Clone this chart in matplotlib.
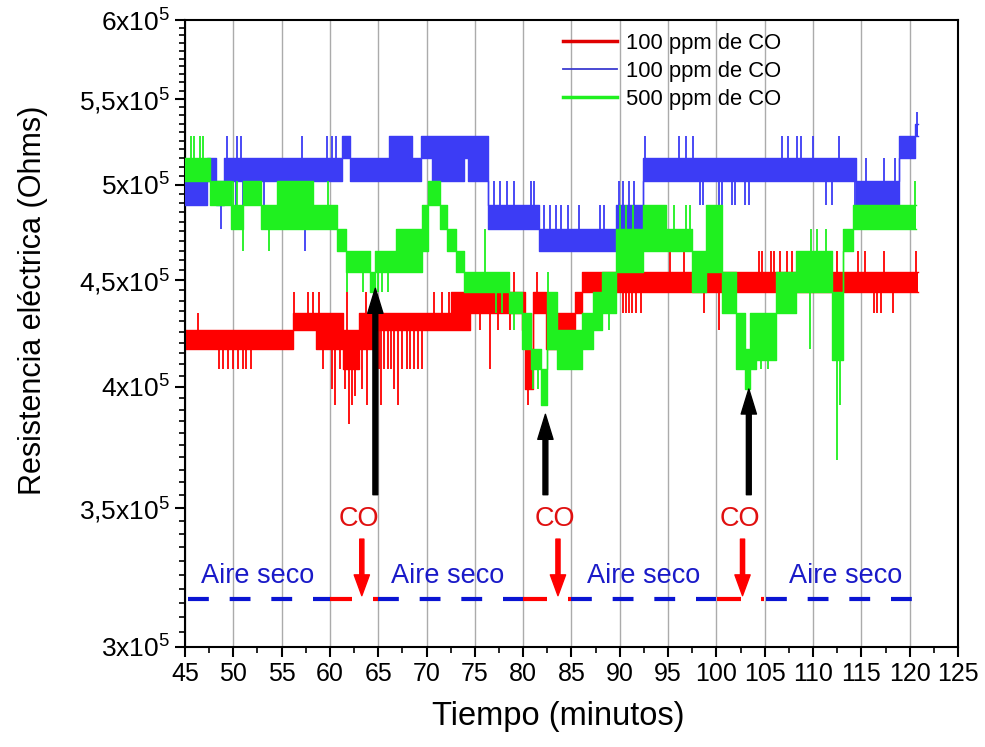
import numpy as np
import matplotlib
matplotlib.use("Agg")
import matplotlib.pyplot as plt
from matplotlib.ticker import FixedLocator, NullFormatter
from matplotlib.lines import Line2D

plt.rcParams['font.family'] = ['Liberation Sans', 'DejaVu Sans']
plt.rcParams['mathtext.fontset'] = 'custom'
plt.rcParams['mathtext.rm'] = 'Liberation Sans'
plt.rcParams['mathtext.it'] = 'Liberation Sans:italic'
plt.rcParams['mathtext.bf'] = 'Liberation Sans:bold'

# ---- data (resistance in units of 1e5 Ohm, time in minutes) ----
# each series: segment start times, band low / high, plus single spikes
red_t = [45.0, 56.2, 58.6, 60.0, 61.4, 63.0, 64.7, 69.9, 72.5, 74.5, 79.9, 80.2, 81.0, 82.4, 84.0, 85.4, 86.1]
red_lo = [4.17, 4.26, 4.17, 4.17, 4.08, 4.17, 4.26, 4.26, 4.26, 4.34, 4.26, 3.99, 4.34, 4.17, 4.26, 4.34, 4.44]
red_hi = [4.26, 4.34, 4.34, 4.34, 4.26, 4.34, 4.34, 4.34, 4.44, 4.44, 4.44, 4.17, 4.44, 4.34, 4.34, 4.44, 4.54]
red_end = 120.9
red_spk_t = [46.3, 48.5, 48.9, 49.5, 50.0, 50.5, 51.0, 51.3, 51.8, 56.3, 57.7, 58.3, 58.9, 59.3, 60.2, 60.5,
             61.0, 61.6, 61.8, 62.0, 62.3, 62.6, 63.3, 63.7, 63.8, 65.1, 65.3, 65.6, 66.0, 66.3, 66.6, 67.0,
             67.5, 68.0, 68.3, 68.7, 69.1, 69.5, 70.8, 71.6, 72.3, 73.0, 75.5, 76.6, 77.4, 78.6, 79.0, 80.5,
             81.4, 88.8, 90.3, 90.6, 91.0, 91.3, 91.7, 92.2, 95.2, 96.6, 98.7, 100.3, 101.5, 104.4, 104.7,
             105.6, 106.0, 106.6, 107.3, 107.8, 110.3, 110.8, 112.5, 114.7, 115.4, 116.3, 116.6, 117.0,
             117.3, 118.3, 120.7]
red_spk_v = [4.34, 4.08, 4.08, 4.08, 4.08, 4.08, 4.08, 4.08, 4.08, 4.44, 4.44, 4.44, 4.44, 4.08, 3.99, 3.92,
             4.08, 3.99, 4.44, 3.84, 3.92, 3.96, 3.99, 4.44, 3.92, 4.08, 3.92, 4.08, 4.08, 4.08, 3.99, 3.92,
             4.08, 4.08, 4.08, 4.08, 4.08, 4.08, 4.44, 4.44, 4.44, 4.26, 4.26, 4.08, 4.26, 4.26, 4.54, 3.92,
             4.54, 4.34, 4.34, 4.34, 4.34, 4.34, 4.34, 4.34, 4.65, 4.65, 4.34, 4.26, 4.34, 4.65, 4.65,
             4.65, 4.65, 4.65, 4.65, 4.65, 4.65, 4.65, 4.65, 4.65, 4.65, 4.34, 4.34, 4.34,
             4.65, 4.34, 4.65]

blue_t = [45.0, 47.3, 48.2, 49.0, 61.3, 62.1, 66.1, 68.5, 69.4, 70.6, 73.9, 74.3, 76.4, 81.6, 89.6, 92.4,
          114.4, 118.9, 120.6]
blue_lo = [4.89, 5.02, 4.89, 5.02, 5.15, 5.02, 5.02, 5.02, 5.15, 5.02, 5.15, 5.02, 4.76, 4.65, 4.76, 5.02,
           4.89, 5.15, 5.28]
blue_hi = [5.02, 5.15, 5.02, 5.15, 5.28, 5.15, 5.28, 5.15, 5.28, 5.28, 5.28, 5.28, 4.89, 4.76, 4.89, 5.15,
           5.02, 5.28, 5.35]
blue_end = 120.9
blue_spk_t = [48.7, 49.3, 50.3, 50.4, 50.8, 51.0, 51.6, 52.1, 52.6, 53.2, 57.1, 57.4, 59.7, 60.2, 60.6,
              77.0, 77.6, 78.3, 79.0, 80.8,
              81.1, 82.2, 82.8, 83.4, 83.9, 84.6, 85.8, 87.9, 88.4, 89.9, 90.1, 90.3, 90.5, 91.0, 91.5,
              92.6, 96.1, 96.9, 97.6, 98.3, 98.6, 100.3, 100.6, 101.6, 101.9, 103.0, 103.4, 106.8, 107.4,
              108.3, 108.8, 110.0, 111.3, 112.0, 112.7, 114.3, 115.5, 117.3, 118.5, 120.8]
blue_spk_v = [4.76, 5.28, 4.89, 5.28, 5.28, 4.89, 4.89, 4.89, 4.89, 4.89, 5.28, 4.65, 5.28, 5.28, 5.28,
              5.02, 5.02, 5.02, 5.02, 5.02,
              5.02, 4.89, 4.89, 4.89, 4.89, 4.89, 4.89, 4.89, 4.89, 5.02, 4.65, 5.02, 4.65, 5.02, 5.02,
              5.28, 5.28, 5.28, 5.28, 4.89, 4.89, 4.89, 4.89, 4.89, 4.89, 4.89, 4.89, 5.28, 5.28,
              5.28, 5.28, 5.28, 4.89, 4.89, 5.28, 4.76, 5.15, 5.15, 5.15, 5.42]

green_t = [45.0, 47.6, 49.8, 51.0, 52.9, 54.5, 58.3, 60.7, 61.7, 64.1, 64.7, 66.8, 69.5, 70.2, 71.4, 72.1,
           73.0, 73.9, 78.5, 79.9, 80.8, 81.8, 82.5, 83.5, 86.1, 87.2, 88.2, 89.6, 92.4, 94.8, 97.5, 98.9,
           100.6, 102.0, 103.0, 103.5, 104.1, 106.2, 108.2, 112.0, 113.1, 114.1]
green_lo = [5.02, 4.89, 4.76, 4.89, 4.76, 4.76, 4.76, 4.65, 4.54, 4.44, 4.54, 4.54, 4.65, 4.89, 4.76, 4.65,
            4.54, 4.44, 4.34, 4.17, 4.08, 3.92, 4.17, 4.08, 4.17, 4.26, 4.34, 4.54, 4.65, 4.65, 4.44, 4.54,
            4.34, 4.08, 3.99, 4.08, 4.12, 4.34, 4.44, 4.12, 4.65, 4.76]
green_hi = [5.15, 5.02, 4.89, 5.02, 4.89, 5.02, 4.89, 4.76, 4.65, 4.54, 4.65, 4.76, 4.89, 5.02, 4.89, 4.76,
            4.65, 4.54, 4.44, 4.34, 4.17, 4.08, 4.44, 4.26, 4.34, 4.44, 4.54, 4.76, 4.89, 4.76, 4.65, 4.89,
            4.54, 4.34, 4.17, 4.34, 4.34, 4.54, 4.65, 4.44, 4.76, 4.89]
green_end = 120.7
green_spk_t = [45.6, 45.9, 46.6, 46.9, 50.0, 50.4, 51.0, 53.7, 59.8, 61.8, 63.4, 65.0, 65.4, 66.0, 76.0,
               77.2, 77.8, 79.0, 81.0, 81.5, 82.6, 88.9, 90.0, 90.6, 91.4, 95.6, 96.8, 97.3, 103.2, 104.6,
               105.3, 109.7, 109.8, 110.4, 111.3, 112.5, 112.8, 120.6]
green_spk_v = [5.28, 5.28, 5.28, 5.28, 5.02, 5.02, 4.65, 4.65, 5.02, 4.44, 4.44, 4.44, 4.44, 4.44, 4.76,
               4.34, 4.34, 4.26, 3.99, 3.99, 4.54, 4.26, 4.89, 4.89, 4.89, 4.89, 4.89, 4.89, 3.99, 4.08,
               4.08, 4.17, 4.76, 4.76, 4.76, 3.69, 3.92, 5.02]

labels = ["100 ppm de CO", "100 ppm de CO", "500 ppm de CO"]
colors = ["#ff0000", "#3c3cf5", "#1ff01f"]

# gas protocol line at the bottom
air_spans = [(45.3, 60.0), (65.0, 80.0), (85.0, 100.0), (105.1, 120.3)]
co_spans = [(60.0, 62.3), (64.5, 65.0), (80.0, 82.5), (84.6, 85.0), (100.1, 102.5), (104.6, 104.9)]
base_level = 3.164
air_text_t = [52.5, 72.2, 92.5, 113.4]
co_arrow_t = [63.3, 83.6, 102.7]
resp_arrow_t = [64.7, 82.3, 103.35]
resp_arrow_tip = [4.46, 3.88, 3.99]

fig = plt.figure(figsize=(9.85, 7.47), dpi=100)
ax = fig.add_axes([0.1878, 0.1339, 0.7848, 0.8393])


def draw_series(t, lo, hi, t_end, spk_t, spk_v, color, z):
    te = np.array(t + [t_end])
    loe = np.array(lo + [lo[-1]]) * 1e5
    hie = np.array(hi + [hi[-1]]) * 1e5
    ax.fill_between(te, loe, hie, step='post', color=color, lw=0, zorder=z)
    ax.step(te, loe, where='post', color=color, lw=1, zorder=z)
    ax.step(te, hie, where='post', color=color, lw=1, zorder=z)
    idx = np.searchsorted(np.array(t), np.array(spk_t), side='right') - 1
    sv = np.array(spk_v) * 1e5
    base = np.where(sv > hie[idx], hie[idx], loe[idx])
    ax.vlines(spk_t, base, sv, color=color, lw=1.3, zorder=z)


draw_series(red_t, red_lo, red_hi, red_end, red_spk_t, red_spk_v, colors[0], 2)
draw_series(blue_t, blue_lo, blue_hi, blue_end, blue_spk_t, blue_spk_v, colors[1], 3)
draw_series(green_t, green_lo, green_hi, green_end, green_spk_t, green_spk_v, colors[2], 4)

# bottom protocol line
for a, b in air_spans:
    ax.plot([a, b], [base_level * 1e5] * 2, color="#0a14d2", lw=3, dashes=(5, 5), zorder=5)
for a, b in co_spans:
    ax.plot([a, b], [base_level * 1e5] * 2, color="#ff0000", lw=3, solid_capstyle='butt', zorder=5)
for t in air_text_t:
    ax.text(t, 3.245e5, "Aire seco", color="#1a1ac8", fontsize=19.5, ha='center', va='center', zorder=6)
for t in co_arrow_t:
    ax.text(t - 0.3, 3.455e5, "CO", color="#e01010", fontsize=19.5, ha='center', va='center', zorder=6)
    ax.annotate('', xy=(t, 3.175e5), xytext=(t, 3.38e5),
                arrowprops=dict(facecolor='#ff0000', edgecolor='#ff0000', width=3,
                                headwidth=11, headlength=15, shrink=0), zorder=6)
for t, tip in zip(resp_arrow_t, resp_arrow_tip):
    ax.annotate('', xy=(t, tip * 1e5), xytext=(t, 3.55e5),
                arrowprops=dict(facecolor='black', edgecolor='black', width=3.5,
                                headwidth=11, headlength=18, shrink=0), zorder=7)

# axes
ax.set_yscale('log')
ax.set_xlim(45, 125)
ax.set_ylim(3e5, 6e5)
xt = np.arange(45, 126, 5)
ax.set_xticks(xt)
ax.set_xticklabels([str(v) for v in xt])
ax.xaxis.set_minor_locator(FixedLocator(np.arange(47.5, 125, 5)))
yt = [3e5, 3.5e5, 4e5, 4.5e5, 5e5, 5.5e5, 6e5]
ax.yaxis.set_major_locator(FixedLocator(yt))
ax.set_yticklabels(["3x10$^{5}$", "3,5x10$^{5}$", "4x10$^{5}$", "4,5x10$^{5}$",
                    "5x10$^{5}$", "5,5x10$^{5}$", "6x10$^{5}$"])
ax.yaxis.set_minor_locator(FixedLocator(np.arange(3e5, 6e5, 5e3)))
ax.yaxis.set_minor_formatter(NullFormatter())
ax.tick_params(axis='both', which='major', direction='out', length=7, width=1.5)
ax.tick_params(axis='both', which='minor', direction='out', length=4, width=1.2)
ax.tick_params(axis='y', labelsize=19)
ax.tick_params(axis='x', labelsize=18, pad=4)
for s in ax.spines.values():
    s.set_linewidth(1.5)
ax.grid(axis='x', which='major', color='#ababab', lw=1)
ax.set_axisbelow(True)

ax.set_xlabel("Tiempo (minutos)", fontsize=23.5)
ax.xaxis.set_label_coords(0.4825, -0.086)
ax.set_ylabel("Resistencia eléctrica (Ohms)", fontsize=22)
ax.yaxis.set_label_coords(-0.177, 0.553)

handles = [Line2D([], [], color="#e00000", lw=2.5),
           Line2D([], [], color="#3c3cd0", lw=1.3),
           Line2D([], [], color="#1ff01f", lw=2.5)]
ax.legend(handles, labels, loc='upper left', bbox_to_anchor=(0.489, 0.98), frameon=False,
          fontsize=15.8, handlelength=2.45, handletextpad=0.4, labelspacing=0.32,
          borderpad=0, borderaxespad=0)

fig.savefig("out.png", dpi=100)
